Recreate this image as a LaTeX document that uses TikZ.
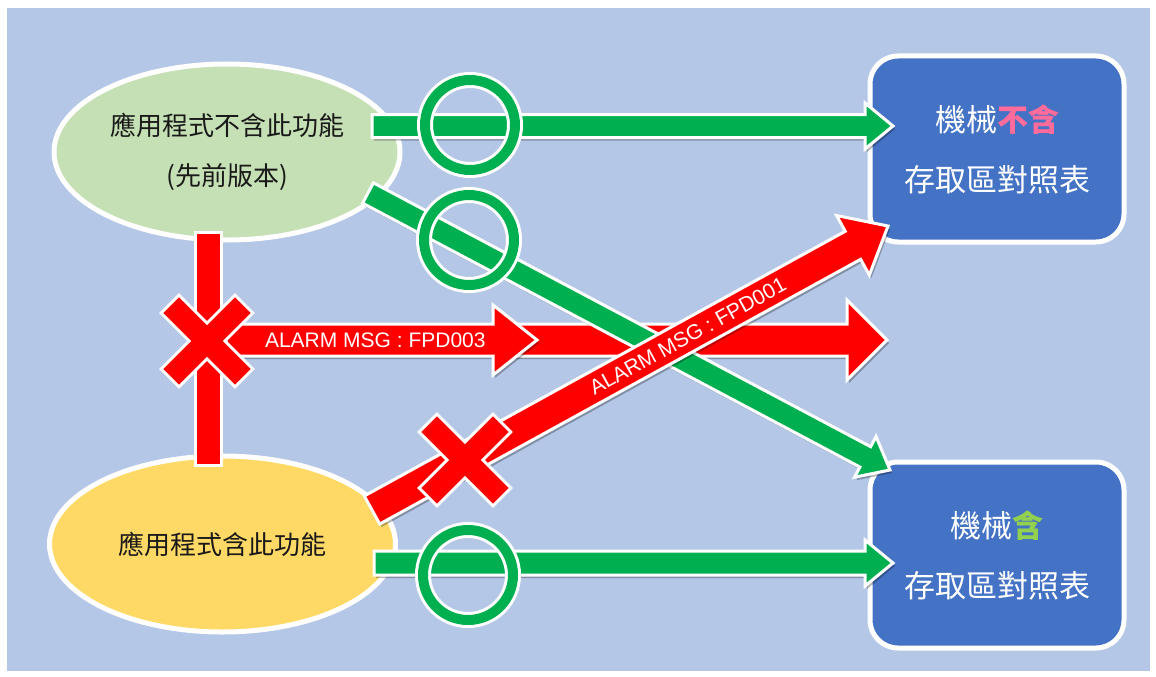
\documentclass[tikz,border=0pt]{standalone}
\usepackage{fontspec}
\setmainfont{Liberation Sans}
\newfontfamily\cjk{Noto Sans CJK TC}
\usetikzlibrary{calc,shadows,shapes.geometric}
\definecolor{bgblue}{HTML}{B4C7E7}
\definecolor{elgreen}{HTML}{C5E0B4}
\definecolor{elyellow}{HTML}{FFD966}
\definecolor{boxblue}{HTML}{4472C4}
\definecolor{arrgreen}{HTML}{00B050}
\definecolor{arrred}{HTML}{FF0000}
\definecolor{pinktxt}{HTML}{FF6B9A}
\definecolor{limetxt}{HTML}{92D050}
% #1 style, #2 start, #3 tip, #4 half shaft width, #5 half head width, #6 head length
\newcommand\blockarrow[6]{%
  \coordinate (hb) at ($(#3)!#6!(#2)$);
  \path[#1] ($(#2)!#4!90:(#3)$) -- ($(hb)!#4!90:(#3)$) -- ($(hb)!#5!90:(#3)$) -- (#3)
    -- ($(hb)!#5!-90:(#3)$) -- ($(hb)!#4!-90:(#3)$) -- ($(#2)!#4!-90:(#3)$) -- cycle;
}
\newcommand\redcross[1]{%
  \draw[white, line width=28pt, line cap=rect]
    ($(#1)+(-28,-28)$) -- ($(#1)+(28,28)$) ($(#1)+(-28,28)$) -- ($(#1)+(28,-28)$);
  \draw[arrred, line width=22pt, line cap=rect]
    ($(#1)+(-28,-28)$) -- ($(#1)+(28,28)$) ($(#1)+(-28,28)$) -- ($(#1)+(28,-28)$);
}
\newcommand\okring[1]{%
  \draw[white, line width=16pt] (#1) circle[radius=45];
  \draw[arrgreen, line width=10pt] (#1) circle[radius=45];
}
\begin{document}
\begin{tikzpicture}[x=1pt,y=-1pt,
  shade/.style={drop shadow={shadow xshift=2pt, shadow yshift=-3pt, opacity=0.28, fill=black}},
  garrow/.style={fill=arrgreen, draw=white, line width=3pt, line join=miter, shade},
  rarrow/.style={fill=arrred, draw=white, line width=3pt, line join=miter, shade},
  appell/.style={ellipse, draw=white, line width=5pt, minimum width=346pt, minimum height=176pt,
    align=center, text=black!90, font=\cjk\fontsize{26pt}{50pt}\selectfont},
  tablebox/.style={rectangle, rounded corners=28pt, draw=white, line width=5pt, fill=boxblue,
    minimum width=254pt, minimum height=186pt, align=center, text=white,
    font=\cjk\fontsize{31pt}{60pt}\selectfont},
  alarm/.style={text=white, font=\fontsize{21pt}{24pt}\selectfont, inner sep=0pt}
]
\useasboundingbox (0,0) rectangle (1156,677);
\fill[white] (0,0) rectangle (1156,677);
\fill[bgblue] (7,8) rectangle (1150,671);

% nodes
\node[appell, fill=elgreen] (e1) at (227,152) {應用程式不含此功能\\(先前版本)};
\node[appell, fill=elyellow] (e2) at (222.5,544) {應用程式含此功能};
\node[tablebox] (b1) at (997,149) {機械{\bfseries\color{pinktxt}不含}\\存取區對照表};
\node[tablebox] (b2) at (997,555) {機械{\bfseries\color{limetxt}含}\\存取區對照表};

% arrow end points
\coordinate (gts) at (372,126);  \coordinate (gte) at (893,126);
\coordinate (gds) at (368,193);  \coordinate (gde) at (890,470);
\coordinate (gbs) at (374,563);  \coordinate (gbe) at (893,563);
\coordinate (r1s) at (226,340);  \coordinate (r1e) at (537,340);
\coordinate (r2s) at (505,340);  \coordinate (r2e) at (887,340);
\coordinate (rds) at (372,510);  \coordinate (rde) at (888,226);

% red vertical bar between the two ellipses
\path[fill=arrred, draw=white, line width=3pt] ($(e1.south)+(-32,-10)$) rectangle ($(e2.north)+(-1.5,12)$);

% red horizontal arrows
\blockarrow{rarrow}{r2s}{r2e}{16pt}{40pt}{40pt}
\blockarrow{rarrow}{r1s}{r1e}{16pt}{35pt}{44pt}
\path (r1s) -- (r1e) node[pos=0.48, alarm] {ALARM MSG : FPD003};

% green arrows
\blockarrow{garrow}{gts}{gte}{11.5pt}{23pt}{28pt}
\blockarrow{garrow}{gbs}{gbe}{12pt}{23pt}{28pt}
\blockarrow{garrow}{gds}{gde}{11.5pt}{23pt}{28pt}

% red diagonal arrow
\blockarrow{rarrow}{rds}{rde}{16pt}{34pt}{40pt}
\path (rds) -- (rde) node[pos=0.612, sloped, alarm] {ALARM MSG : FPD001};

% crosses
\coordinate (x1) at (207,341);
\coordinate (x2) at (465,460);
\redcross{x1}
\redcross{x2}

% rings
\coordinate (o1) at (470,125);
\coordinate (o2) at (469,240);
\coordinate (o3) at (468,575);
\okring{o1}
\okring{o2}
\okring{o3}
\end{tikzpicture}
\end{document}
